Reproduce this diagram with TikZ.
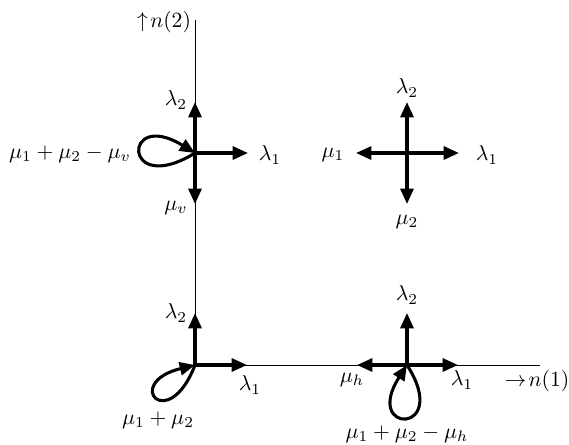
\documentclass[tikz,border=0pt]{standalone}
\usetikzlibrary{arrows.meta}
\begin{document}
\begin{tikzpicture}[x=0.425pt,y=-0.425pt,
  axisline/.style={line width=0.35pt},
  thickarrow/.style={line width=1.3pt,-{Triangle[length=6.5pt,width=5.5pt]}},
  lbl/.style={inner sep=0pt,scale=0.92}]
\useasboundingbox (0,0) rectangle (569,444);
% axes
\coordinate (O) at (195,365);
\coordinate (Ytop) at (195,20);
\coordinate (Xend) at (540,365);
\draw[axisline] (Ytop) -- (O) -- (Xend);
\node[lbl] (ny) at (164,22) {$\uparrow\! n(2)$};
\node[lbl] (nx) at (537,381) {$\rightarrow\! n(1)$};
% top-left state
\coordinate (A) at (195,153);
\coordinate (Au) at (195,102);
\coordinate (Ar) at (248,153);
\coordinate (Ad) at (195,204);
\draw[thickarrow] (A) -- (Au);
\draw[thickarrow] (A) -- (Ar);
\draw[thickarrow] (A) -- (Ad);
\draw[thickarrow] (A) .. controls +(-73,45) and +(-73,-45) .. (A);
\node[lbl] at (176,100) {$\lambda_2$};
\node[lbl] at (270,155) {$\lambda_1$};
\node[lbl] at (176,208) {$\mu_v$};
\node[lbl] at (70,154) {$\mu_1+\mu_2-\mu_v$};
% top-right state
\coordinate (B) at (407,153);
\coordinate (Bu) at (407,102);
\coordinate (Bl) at (356,153);
\coordinate (Br) at (459,153);
\coordinate (Bd) at (407,204);
\draw[thickarrow] (B) -- (Bu);
\draw[thickarrow] (B) -- (Bl);
\draw[thickarrow] (B) -- (Br);
\draw[thickarrow] (B) -- (Bd);
\node[lbl] at (407,88) {$\lambda_2$};
\node[lbl] at (333,155) {$\mu_1$};
\node[lbl] at (487,155) {$\lambda_1$};
\node[lbl] at (407,222) {$\mu_2$};
% bottom-left state
\coordinate (C) at (195,365);
\coordinate (Cu) at (195,313);
\coordinate (Cr) at (247,365);
\draw[thickarrow] (C) -- (Cu);
\draw[thickarrow] (C) -- (Cr);
\draw[thickarrow] (C) .. controls +(-27,70) and +(-73,18) .. (C);
\node[lbl] at (176,313) {$\lambda_2$};
\node[lbl] at (250,385) {$\lambda_1$};
\node[lbl] at (158,420) {$\mu_1+\mu_2$};
% bottom-right state
\coordinate (D) at (407,365);
\coordinate (Du) at (407,313);
\coordinate (Dl) at (357,365);
\coordinate (Dr) at (458,365);
\draw[thickarrow] (D) -- (Du);
\draw[thickarrow] (D) -- (Dl);
\draw[thickarrow] (D) -- (Dr);
\draw[thickarrow] (D) .. controls +(45,70) and +(-45,70) .. (D);
\node[lbl] at (407,295) {$\lambda_2$};
\node[lbl] at (352,380) {$\mu_h$};
\node[lbl] at (462,380) {$\lambda_1$};
\node[lbl] at (407,434) {$\mu_1+\mu_2-\mu_h$};
\end{tikzpicture}
\end{document}
